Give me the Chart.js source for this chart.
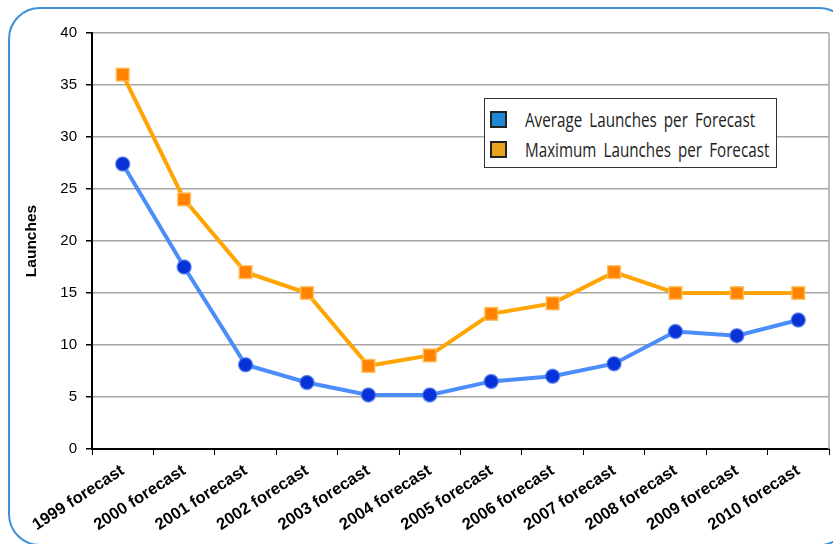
<!DOCTYPE html>
<html>
<head>
<meta charset="utf-8">
<script src="https://cdn.jsdelivr.net/npm/chart.js@4.4.1/dist/chart.umd.min.js"></script>
<style>
  html, body { margin: 0; padding: 0; background: #fff; }
  #wrap { position: relative; width: 833px; height: 544px; overflow: hidden; }
  #frame { position: absolute; left: 8px; top: 7px; width: 843px; height: 539px;
           border: 2px solid #3d8fd6; border-radius: 32px; box-sizing: border-box; }
  #c { position: absolute; left: 0; top: 0; }
  #legend { position: absolute; left: 484px; top: 98px; width: 293px; height: 70px;
            background: #fff; border: 1px solid #333; box-sizing: border-box;
            font-family: "Open Sans", "DejaVu Sans", sans-serif;
            font-size: 19.5px; color: #222; padding-top: 5px; white-space: nowrap; }
  .row { display: flex; align-items: center; height: 30px; padding-left: 5px; }
  .sw { width: 13px; height: 13px; border: 2px solid #222; margin-right: 18px; flex: none; }
  .tx { display: inline-block; transform: scaleX(0.78); transform-origin: left center;
        word-spacing: 4px; }
</style>
</head>
<body>
<div id="wrap">
  <div id="frame"></div>
  <canvas id="c" width="833" height="544"></canvas>
  <div id="legend"></div>
</div>
<script>
const categories = ["1999 forecast", "2000 forecast", "2001 forecast", "2002 forecast",
  "2003 forecast", "2004 forecast", "2005 forecast", "2006 forecast",
  "2007 forecast", "2008 forecast", "2009 forecast", "2010 forecast"];
const averageLaunches = [27.4, 17.5, 8.1, 6.4, 5.2, 5.2, 6.5, 7.0, 8.2, 11.3, 10.9, 12.4];
const maximumLaunches = [36, 24, 17, 15, 8, 9, 13, 14, 17, 15, 15, 15];
const yTicks = [0, 5, 10, 15, 20, 25, 30, 35, 40];

const seriesNames = ["Average Launches per Forecast", "Maximum Launches per Forecast"];
const swatchColors = ["#1f87d3", "#e9a21c"];

const ctx = document.getElementById('c');
new Chart(ctx, {
  type: 'line',
  data: {
    labels: categories,
    datasets: [
      {
        label: seriesNames[0],
        data: averageLaunches,
        borderColor: '#4a8dfb',
        borderWidth: 4,
        pointStyle: 'circle',
        pointRadius: 7,
        pointBackgroundColor: '#0632d6',
        pointBorderColor: 'rgba(80,120,240,0.7)',
        pointBorderWidth: 1.5,
        tension: 0
      },
      {
        label: seriesNames[1],
        data: maximumLaunches,
        borderColor: '#ffa400',
        borderWidth: 4,
        pointStyle: 'rect',
        pointRadius: 9,
        pointBackgroundColor: '#ff8200',
        pointBorderColor: 'rgba(255,190,90,0.9)',
        pointBorderWidth: 1.5,
        tension: 0
      }
    ]
  },
  options: {
    responsive: false,
    animation: false,
    layout: { autoPadding: false, padding: { left: 22, top: 33, right: 4, bottom: 0 } },
    plugins: { legend: { display: false }, tooltip: { enabled: false } },
    scales: {
      x: {
        offset: true,
        afterFit: s => { s.height = 95; s.paddingRight = 0; s.paddingLeft = 0; },
        grid: { display: true, offset: true, drawOnChartArea: false, drawTicks: true,
                tickLength: 6, color: '#000', lineWidth: 1 },
        border: { display: true, color: '#000', width: 2 },
        ticks: {
          autoSkip: false, maxRotation: 33, minRotation: 33, color: '#000',
          font: { family: 'Arial, "Liberation Sans", sans-serif', size: 16.5, weight: 'bold' },
          padding: 6
        }
      },
      y: {
        min: 0, max: 40,
        afterFit: s => { s.width = 70; s.paddingTop = 0; s.paddingBottom = 0; },
        afterBuildTicks: s => { s.ticks = yTicks.map(v => ({ value: v })); },
        grid: { color: '#a6a6a6', lineWidth: 1.5, tickLength: 6, tickColor: '#000' },
        border: { display: true, color: '#000', width: 2 },
        ticks: {
          color: '#000', padding: 9,
          font: { family: 'Arial, "Liberation Sans", sans-serif', size: 15 }
        },
        title: {
          display: true, text: 'Launches', color: '#000',
          font: { family: 'Arial, "Liberation Sans", sans-serif', size: 15.5, weight: 'bold' },
          padding: 0
        }
      }
    }
  },
  plugins: [{
    id: 'plotEdge',
    afterDraw(chart) {
      const a = chart.chartArea, c = chart.ctx;
      c.save();
      c.strokeStyle = '#a6a6a6';
      c.lineWidth = 1.5;
      c.beginPath();
      c.moveTo(a.right, a.top);
      c.lineTo(a.right, a.bottom);
      c.stroke();
      c.restore();
    }
  }]
});

const legend = document.getElementById('legend');
seriesNames.forEach((name, i) => {
  const row = document.createElement('div');
  row.className = 'row';
  const sw = document.createElement('div');
  sw.className = 'sw';
  sw.style.background = swatchColors[i];
  const tx = document.createElement('span');
  tx.className = 'tx';
  tx.textContent = name;
  row.appendChild(sw);
  row.appendChild(tx);
  legend.appendChild(row);
});
</script>
</body>
</html>
